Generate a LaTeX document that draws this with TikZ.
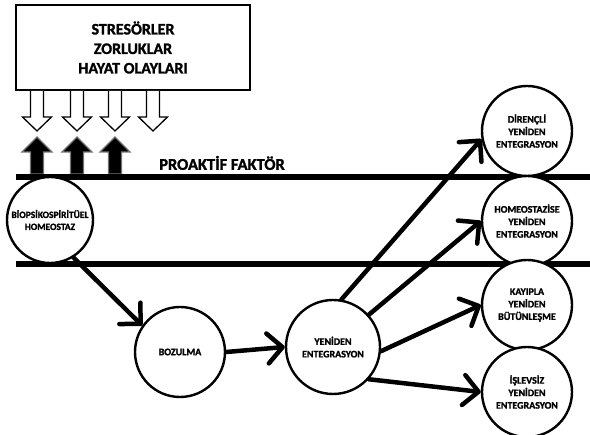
\documentclass[tikz,border=0pt]{standalone}
\usepackage{fontspec}
\setmainfont{Carlito}
\newfontfamily\labelfont{Carlito}[UprightFont={* Bold}, FakeBold=1.5]
\usetikzlibrary{arrows.meta}
\def\stressarrow(#1){\draw[line width=1.3pt, fill=white, shift={(#1,0)}] (-6.5,91) -- (-6.5,117) -- (-14.5,117) -- (0,131) -- (14.5,117) -- (6.5,117) -- (6.5,91);}
\def\proarrow(#1){\draw[line width=1.3pt, draw=black!55, fill=black, shift={(#1,0)}] (-6.5,174) -- (-6.5,152) -- (-15,152) -- (0,137) -- (15,152) -- (6.5,152) -- (6.5,174) -- cycle;}

\begin{document}
\begin{tikzpicture}[x=1pt, y=-1pt,
    stage/.style={circle, draw, fill=white, line width=2.4pt, minimum size=90pt, inner sep=0pt, align=center, font=\labelfont\fontsize{10}{12.5}\selectfont},
    flow/.style={line width=4.5pt, line cap=round, -{Straight Barb[length=15pt, width=30pt, line width=4.5pt, round]}}]
			%%%%% START %%%%%
			\useasboundingbox (0,0) rectangle (590,435);
			
			\node[draw, line width=2.5pt, minimum width=234pt, minimum height=85pt, align=center, font=\labelfont\fontsize{16}{19.5}\selectfont] (stress) at (133,47.5) {STRESÖRLER\\ZORLUKLAR\\HAYAT OLAYLARI};
			
			\stressarrow(37) \stressarrow(77) \stressarrow(115) \stressarrow(153)
			\proarrow(37) \proarrow(77) \proarrow(115)
			
			\node[font=\labelfont\fontsize{16.5}{18}\selectfont] (proaktif) at (222,163) {PROAKTİF FAKTÖR};
			
			\draw[line width=6pt] (16,177) -- (590,177);
			\draw[line width=6pt] (16,264) -- (590,264);
			
			\node[stage, minimum size=86pt, font=\labelfont\fontsize{9.5}{12}\selectfont] (bio) at (50,220) {BİOPSİKOSPİRİTÜEL\\HOMEOSTAZ};
			\node[stage] (boz) at (180,352) {BOZULMA};
			\node[stage, minimum size=94pt] (yen) at (333,347) {YENİDEN\\ENTEGRASYON};
			
			\node[stage] (dir) at (527,131) {DİRENÇLİ\\YENİDEN\\ENTEGRASYON};
			\node[stage] (hom) at (527,221) {HOMEOSTAZİSE\\YENİDEN\\ENTEGRASYON};
			\node[stage] (kay) at (527,305) {KAYIPLA\\YENİDEN\\BÜTÜNLEŞME};
			\node[stage] (isl) at (527,392) {İŞLEVSİZ\\YENİDEN\\ENTEGRASYON};
			
			\draw[flow] (bio.-58) -- (boz.145);
			\draw[flow] (boz.east) -- (yen.west);
			\draw[flow] (yen.80) -- (dir.190);
			\draw[flow] (yen.42) -- (hom.180);
			\draw[flow] (yen.-5) -- (kay.180);
			\draw[flow] (yen.-42) -- (isl.180);
			
			%%%%% END %%%%%
\end{tikzpicture}
\end{document}
